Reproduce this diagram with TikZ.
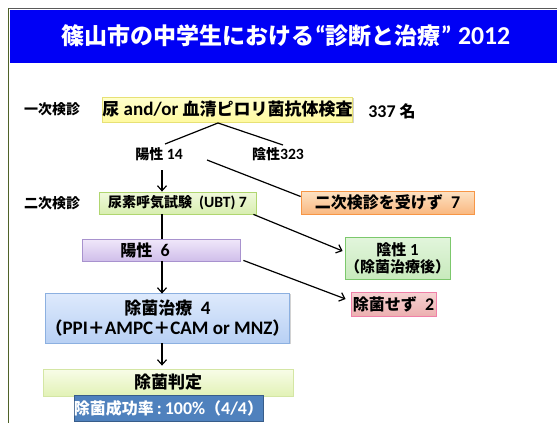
\documentclass[tikz,border=0pt]{standalone}
\usepackage{fontspec}
\setmainfont{Carlito}[Scale=1.12, BoldFont={* Bold}]
\newfontfamily\cjk{Noto Sans CJK JP}
\usetikzlibrary{shadows,arrows.meta}
\newcommand\J[1]{{\cjk #1}}
\definecolor{titleblue}{HTML}{0000F5}
\definecolor{framegreen}{HTML}{4F6228}
\tikzset{
  box/.style={draw, line width=0.8pt, inner sep=0pt, align=center,
    drop shadow={shadow xshift=1.2pt, shadow yshift=-1.2pt, fill=black!35, opacity=0.5}},
  lnk/.style={line width=1.2pt},
  arr/.style={line width=1.2pt, -{Straight Barb[length=5pt,width=9pt,line width=1.2pt]}},
  f14/.style={font=\fontsize{14}{16}\selectfont\bfseries},
  f15/.style={font=\fontsize{15}{18}\selectfont\bfseries},
  f16/.style={font=\fontsize{16}{19}\selectfont\bfseries},
  f17/.style={font=\fontsize{17}{21}\selectfont\bfseries},
}
\begin{document}
\begin{tikzpicture}[x=1pt,y=-1pt]
\useasboundingbox (0,0) rectangle (557,423);
\fill[white] (0,0) rectangle (557,423);
% frame
\draw[line width=1.2pt, black!65] (8,8.5) -- (557,8.5);
\draw[line width=1.5pt, framegreen] (8.5,8) -- (8.5,423);
\fill[titleblue] (9.5,10) rectangle (557,63);
\node[text=white, font=\fontsize{23}{27}\selectfont\bfseries] (title) at (286,36)
  {\J{篠山市の中学生における}“\J{診断と治療}” 2012};

% first screening
\node[f14] (lbl1) at (52,109) {\J{一次検診}};
\node[box, f17, draw=black!18!yellow!60!white, top color={rgb,255:red,255;green,255;blue,205}, bottom color={rgb,255:red,255;green,250;blue,160},
  minimum width=249pt, minimum height=25pt] (b1) at (227.5,109.5)
  {\J{尿} and/or \J{血清ピロリ菌抗体検査}};
\node[f16] (n337) at (392,111) {337 \J{名}};
\coordinate (split) at (218,123);
\coordinate (posend) at (165,144);
\coordinate (negend) at (283,145);
\draw[lnk] (posend) -- (split) -- (negend);
\node[f14] (pos14) at (159,154) {\J{陽性} 14};
\node[f14] (neg323) at (278,154) {\J{陰性}323};

% second screening
\node[f14] (lbl2) at (52,203) {\J{二次検診}};
\node[box, f14, draw={rgb,255:red,176;green,214;blue,112}, top color={rgb,255:red,240;green,249;blue,220}, bottom color={rgb,255:red,216;green,238;blue,176},
  minimum width=157pt, minimum height=22pt] (b2) at (177.5,203)
  {\J{尿素呼気試験}\ \ (UBT)\ 7};
\node[box, f16, draw={rgb,255:red,247;green,150;blue,70}, top color={rgb,255:red,253;green,226;blue,196}, bottom color={rgb,255:red,249;green,184;blue,128},
  minimum width=173pt, minimum height=23pt] (orange) at (387.5,202.5)
  {\J{二次検診を受けず}\ \ 7};
\coordinate (pstart) at (207,160);
\draw[lnk] (pstart) -- ([yshift=6pt]orange.west);
\coordinate (arrstart) at (162,170);
\draw[arr] (arrstart) -- (b2.north -| arrstart);

\node[box, draw={rgb,255:red,168;green,146;blue,206}, top color={rgb,255:red,240;green,232;blue,250}, bottom color={rgb,255:red,208;green,190;blue,234},
  minimum width=158pt, minimum height=22pt] (purple) at (161,250) {};
\node[f16] (pos6) at (145,250) {\J{陽性}\ \ 6};
\draw[lnk] (b2.south -| arrstart) -- (purple.north -| arrstart);

\node[box, f15, draw={rgb,255:red,124;green,200;blue,108}, top color={rgb,255:red,226;green,245;blue,220}, bottom color={rgb,255:red,200;green,234;blue,188},
  minimum width=99pt, minimum height=42pt] (neg1) at (397.5,258)
  {\J{陰性}\ 1\\[-1pt]\J{（除菌治療後）}};
\draw[arr] ([xshift=-3pt]b2.south east) -- ([yshift=7pt,xshift=-2pt]neg1.west);

\node[box, f16, draw={rgb,255:red,240;green,128;blue,168}, top color={rgb,255:red,246;green,210;blue,210}, bottom color={rgb,255:red,236;green,176;blue,176},
  minimum width=85pt, minimum height=24pt] (pink) at (393.5,304)
  {\J{除菌せず}\ \ 2};
\draw[arr] ([xshift=3pt,yshift=1pt]purple.south east) -- ([yshift=5pt,xshift=-5pt]pink.west);

\node[box, f17, draw={rgb,255:red,140;green,176;blue,224}, top color={rgb,255:red,222;green,234;blue,252}, bottom color={rgb,255:red,184;green,208;blue,244},
  minimum width=243pt, minimum height=50pt] (treat) at (167.5,318)
  {\J{除菌治療}\ \ 4\\[-1pt]\J{（}PPI\J{＋}AMPC\J{＋}CAM or MNZ\J{）}};
\draw[arr] (purple.south -| arrstart) -- ([yshift=-1pt]treat.north -| arrstart);

\node[box, f17, draw={rgb,255:red,212;green,230;blue,164}, top color={rgb,255:red,248;green,252;blue,232}, bottom color={rgb,255:red,226;green,242;blue,182},
  minimum width=250pt, minimum height=27pt] (judge) at (168,382.5)
  {\J{除菌判定}};
\draw[arr] (treat.south -| arrstart) -- ([yshift=3pt]judge.north -| arrstart);

\node[box, f16, text=white, draw={rgb,255:red,56;green,93;blue,138}, fill={rgb,255:red,79;green,129;blue,189},
  minimum width=183pt, minimum height=26pt] (rate) at (168.5,408)
  {\J{除菌成功率}\,:\,100\%\J{（}4/4\J{）}};
\end{tikzpicture}
\end{document}
